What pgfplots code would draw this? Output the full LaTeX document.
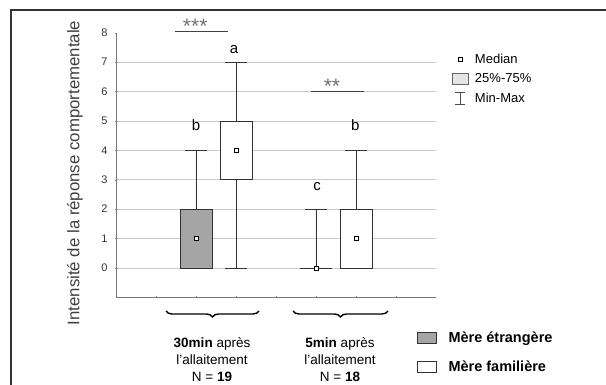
\documentclass[border=0pt]{standalone}
\usepackage{fontspec}
\setmainfont{Liberation Sans}
\usepackage{pgfplots}
\pgfplotsset{compat=1.18}
\usepgfplotslibrary{statistics}
\usetikzlibrary{decorations.pathreplacing}
\definecolor{boxgray}{RGB}{165,165,165}
\definecolor{gridgray}{RGB}{200,200,200}
\definecolor{axgray}{RGB}{120,120,120}
\begin{document}
\begin{tikzpicture}
\path[use as bounding box] (0,0) rectangle (606bp,385bp);
% outer frame (top and left only)
\draw[line width=1.6bp, black!80] (606bp,375bp) -- (11bp,375bp) -- (11bp,0bp);
\begin{axis}[
  at={(116bp,87.6bp)}, anchor=south west,
  scale only axis, width=320bp, height=264.8bp,
  xmin=0, xmax=8, ymin=-1, ymax=8,
  clip=false,
  axis x line=bottom, axis y line=left,
  axis line style={axgray, line width=0.6bp, -},
  xtick={1,...,7}, xticklabels={},
  major tick length=2bp,
  tick style={axgray},
  ytick={0,...,7}, extra y ticks={8}, extra y tick style={grid=none},
  ymajorgrids, grid style={gridgray, line width=0.5bp},
  /pgf/number format/assume math mode=true,
  yticklabel style={font=\fontsize{11bp}{12bp}\selectfont, text=black!80, xshift=-4bp},
  boxplot/draw direction=y,
  boxplot/draw/median/.code={},
  legend style={at={(rel axis cs:1.05,0.93)}, anchor=north west, draw=none, fill=none,
    font=\fontsize{13bp}{14bp}\selectfont, row sep=4bp, inner sep=0pt,
    nodes={inner sep=2.5bp}, cells={anchor=west}},
]
\addlegendimage{legend image code/.code={\path[draw=none,fill=none] (0,-6bp) rectangle (20bp,6bp);
   \draw[black, line width=0.6bp, fill=white] (6bp,-2.2bp) rectangle (10bp,2.2bp);}}
\addlegendentry{Median}
\addlegendimage{legend image code/.code={\path[draw=none,fill=none] (0,-6bp) rectangle (20bp,6bp);
   \draw[black!60, line width=0.6bp, fill=black!10] (0bp,-5.5bp) rectangle (16bp,5.5bp);}}
\addlegendentry{25\%-75\%}
\addlegendimage{legend image code/.code={\path[draw=none,fill=none] (0,-6bp) rectangle (20bp,6bp);
   \draw[black!70, line width=0.6bp] (3bp,-6bp) -- (13bp,-6bp) (8bp,-6bp) -- (8bp,6bp) (3bp,6bp) -- (13bp,6bp);}}
\addlegendentry{Min-Max}

% Mere etrangere, 30 min
\addplot[forget plot, draw=black!80, fill=boxgray, line width=0.6bp,
  boxplot prepared={draw position=2, lower whisker=0, lower quartile=0,
    median=1, upper quartile=2, upper whisker=4, box extend=0.8, whisker extend=0.55}]
  coordinates {};
% Mere familiere, 30 min
\addplot[forget plot, draw=black!80, fill=white, line width=0.6bp,
  boxplot prepared={draw position=3, lower whisker=0, lower quartile=3,
    median=4, upper quartile=5, upper whisker=7, box extend=0.8, whisker extend=0.55}]
  coordinates {};
% Mere etrangere, 5 min
\addplot[forget plot, draw=black!80, fill=boxgray, line width=0.6bp,
  boxplot prepared={draw position=5, lower whisker=0, lower quartile=0,
    median=0, upper quartile=0, upper whisker=2, box extend=0.8, whisker extend=0.55}]
  coordinates {};
% Mere familiere, 5 min
\addplot[forget plot, draw=black!80, fill=white, line width=0.6bp,
  boxplot prepared={draw position=6, lower whisker=0, lower quartile=0,
    median=1, upper quartile=2, upper whisker=4, box extend=0.8, whisker extend=0.55}]
  coordinates {};
% medians
\addplot[forget plot, only marks, mark=square*, mark size=2.1bp,
  mark options={fill=white, draw=black, line width=0.6bp}]
  coordinates {(2,1) (3,4) (5,0) (6,1)};
% significance bars
\addplot[forget plot, black!75, line width=1bp] coordinates {(1.475,8.05) (2.8,8.05)};
\addplot[forget plot, black!75, line width=1bp] coordinates {(4.875,6.0) (6.2,6.0)};
\node[font=\fontsize{21bp}{21bp}\selectfont, text=black!55] at (axis cs:1.98,8.22) {***};
\node[font=\fontsize{21bp}{21bp}\selectfont, text=black!55] at (axis cs:5.4,6.17) {**};
% letters
\node[font=\fontsize{15bp}{15bp}\selectfont] at (axis cs:2.0,4.85) {b};
\node[font=\fontsize{15bp}{15bp}\selectfont] at (axis cs:2.95,7.42) {a};
\node[font=\fontsize{15bp}{15bp}\selectfont] at (axis cs:5.03,2.78) {c};
\node[font=\fontsize{15bp}{15bp}\selectfont] at (axis cs:5.98,4.85) {b};
\end{axis}

% second legend
\begin{axis}[
  at={(0bp,0bp)}, anchor=south west, scale only axis, width=606bp, height=385bp,
  xmin=0, xmax=606, ymin=0, ymax=385, hide axis,
  legend style={at={(rel axis cs:0.688,0.146)}, anchor=north west, draw=none, fill=none,
    font=\bfseries\fontsize{14.5bp}{15bp}\selectfont, row sep=11bp, inner sep=0pt,
    nodes={inner sep=3bp}, cells={anchor=west}},
]
\addlegendimage{legend image code/.code={\path[draw=none,fill=none] (0,-6bp) rectangle (28bp,6bp);
   \draw[black!80, line width=0.8bp, fill=boxgray] (0bp,-5.5bp) rectangle (19bp,5.5bp);}}
\addlegendentry{Mère étrangère}
\addlegendimage{legend image code/.code={\path[draw=none,fill=none] (0,-6bp) rectangle (28bp,6bp);
   \draw[black!80, line width=0.8bp, fill=white] (0bp,-5.5bp) rectangle (19bp,5.5bp);}}
\addlegendentry{Mère familière}
\end{axis}

% y label
\node[rotate=90, font=\fontsize{16.8bp}{16.8bp}\selectfont, text=black!75] at (75bp,212bp)
  {Intensité de la réponse comportementale};
% braces
\draw[decorate, decoration={brace, mirror, amplitude=6bp}, line width=1.4bp]
  (166bp,74bp) -- (259bp,74bp);
\draw[decorate, decoration={brace, mirror, amplitude=6bp}, line width=1.4bp]
  (293bp,74bp) -- (388bp,74bp);
\node[align=center, font=\fontsize{13.5bp}{17bp}\selectfont, anchor=north] at (212bp,51bp)
  {\textbf{30min} après\\l'allaitement\\N = \textbf{19}};
\node[align=center, font=\fontsize{13.5bp}{17bp}\selectfont, anchor=north] at (340bp,51bp)
  {\textbf{5min} après\\l'allaitement\\N = \textbf{18}};
\end{tikzpicture}
\end{document}
